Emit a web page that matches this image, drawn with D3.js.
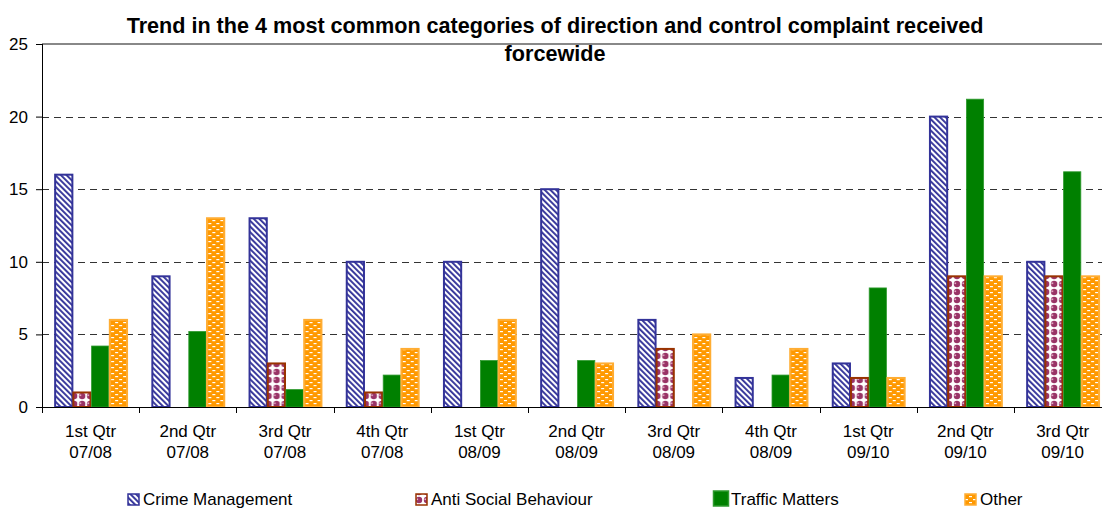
<!DOCTYPE html>
<html>
<head>
<meta charset="utf-8">
<script src="https://cdn.jsdelivr.net/npm/d3@7"></script>
<style>
  html, body { margin: 0; padding: 0; background: #fff; }
  svg { display: block; font-family: Arial, "Liberation Sans", sans-serif; }
</style>
</head>
<body>
<svg id="chart" width="1102" height="509"></svg>
<script>
// Quarterly periods (two-line labels)
const quarters = ["1st Qtr", "2nd Qtr", "3rd Qtr", "4th Qtr", "1st Qtr", "2nd Qtr", "3rd Qtr", "4th Qtr", "1st Qtr", "2nd Qtr", "3rd Qtr"];
const years    = ["07/08", "07/08", "07/08", "07/08", "08/09", "08/09", "08/09", "08/09", "09/10", "09/10", "09/10"];

// Complaint counts per category
const crimeManagement     = [16, 9, 13, 10, 10, 15, 6, 2, 3, 20, 10];
const antiSocialBehaviour = [1, 0, 3, 1, 0, 0, 4, 0, 2, 9, 9];
const trafficMatters      = [4.2, 5.2, 1.2, 2.2, 3.2, 3.2, 0, 2.2, 8.2, 21.2, 16.2];
const other               = [6, 13, 6, 4, 6, 3, 5, 4, 2, 9, 9];

const seriesNames = ["Crime Management", "Anti Social Behaviour", "Traffic Matters", "Other"];
const yTicks = [0, 5, 10, 15, 20, 25];

const titleLines = ["Trend in the 4 most common categories of direction and control complaint received", "forcewide"];

const series = [
  { name: seriesNames[0], values: crimeManagement,     fill: "url(#pCrime)", stroke: "#333399" },
  { name: seriesNames[1], values: antiSocialBehaviour, fill: "url(#pAsb)",   stroke: "#993300" },
  { name: seriesNames[2], values: trafficMatters,      fill: "#008000",      stroke: "#2f9a2f" },
  { name: seriesNames[3], values: other,               fill: "url(#pOther)", stroke: "#ffad33" }
];

const svg = d3.select("#chart");
const plotLeft = 42, plotTop = 44, plotBottom = 407;
const step = 97.2;
const plotRight = plotLeft + step * quarters.length;

// Fill patterns
const defs = svg.append("defs");
const pc = defs.append("pattern").attr("id", "pCrime").attr("patternUnits", "userSpaceOnUse")
  .attr("width", 4).attr("height", 4).attr("patternTransform", "rotate(-45)");
pc.append("rect").attr("width", 4).attr("height", 4).attr("fill", "#fff");
pc.append("rect").attr("width", 1.9).attr("height", 4).attr("fill", "#333399");

const pa = defs.append("pattern").attr("id", "pAsb").attr("patternUnits", "userSpaceOnUse")
  .attr("width", 8).attr("height", 8);
pa.append("rect").attr("width", 8).attr("height", 8).attr("fill", "#fff");
pa.append("circle").attr("cx", 4).attr("cy", 4).attr("r", 3.2).attr("fill", "#993366");
pa.append("rect").attr("x", 1.5).attr("y", 2.5).attr("width", 1.6).attr("height", 1.6).attr("fill", "#e6b3cc");

const po = defs.append("pattern").attr("id", "pOther").attr("patternUnits", "userSpaceOnUse")
  .attr("width", 8).attr("height", 6);
po.append("rect").attr("width", 8).attr("height", 6).attr("fill", "#ff9900");
po.append("rect").attr("x", 1).attr("y", 1).attr("width", 3).attr("height", 1.2).attr("fill", "#fff");
po.append("rect").attr("x", 5).attr("y", 4).attr("width", 3).attr("height", 1.2).attr("fill", "#fff");

// Scales
const x0 = d3.scaleBand().domain(d3.range(quarters.length)).range([plotLeft, plotRight])
  .paddingInner(0.25).paddingOuter(0.125);
const x1 = d3.scaleBand().domain(d3.range(series.length)).range([0, x0.bandwidth()]);
const y = d3.scaleLinear().domain([0, 25]).range([plotBottom, plotTop]);

// Gridlines
svg.append("g").selectAll("line").data(yTicks.filter(t => t > 0 && t < 25)).join("line")
  .attr("x1", plotLeft).attr("x2", plotRight)
  .attr("y1", d => Math.round(y(d)) + 0.5).attr("y2", d => Math.round(y(d)) + 0.5)
  .attr("stroke", "#333").attr("stroke-width", 1).attr("stroke-dasharray", "7,5");
svg.append("line").attr("x1", plotLeft).attr("x2", plotRight)
  .attr("y1", y(25)).attr("y2", y(25)).attr("stroke", "#888").attr("stroke-width", 2);

// Bars
const groups = svg.append("g").selectAll("g").data(d3.range(quarters.length)).join("g")
  .attr("transform", i => `translate(${x0(i)},0)`);
groups.selectAll("rect")
  .data(i => series.map((s, k) => ({ k, s, v: s.values[i] })).filter(d => d.v > 0))
  .join("rect")
  .attr("x", d => x1(d.k) + 1)
  .attr("width", x1.bandwidth() - 1)
  .attr("y", d => y(d.v))
  .attr("height", d => y(0) - y(d.v))
  .attr("fill", d => d.s.fill)
  .attr("stroke", d => d.s.stroke)
  .attr("stroke-width", d => d.k === 2 ? 0.8 : 2);

// Axes
const yAxis = d3.axisLeft(y).tickValues(yTicks).tickSize(6).tickPadding(8);
const gy = svg.append("g").attr("transform", `translate(${plotLeft},0)`).call(yAxis);
gy.select(".domain").attr("stroke", "#000").attr("d", `M0.5,${plotTop}V${plotBottom}`);
gy.selectAll(".tick line").attr("stroke", "#000");
gy.selectAll("text").attr("font-size", 17).attr("fill", "#000").attr("font-family", "Arial, 'Liberation Sans', sans-serif");

const xAxisLine = svg.append("g");
xAxisLine.append("line").attr("x1", plotLeft).attr("x2", plotRight).attr("y1", plotBottom + 0.5).attr("y2", plotBottom + 0.5).attr("stroke", "#000");
xAxisLine.selectAll("line.t").data(d3.range(quarters.length + 1)).join("line").attr("class", "t")
  .attr("x1", i => Math.round(plotLeft + i * step) + 0.5).attr("x2", i => Math.round(plotLeft + i * step) + 0.5)
  .attr("y1", plotBottom).attr("y2", plotBottom + 6).attr("stroke", "#000");

const labels = svg.append("g").attr("font-size", 17).attr("text-anchor", "middle").attr("fill", "#000");
labels.selectAll("text").data(d3.range(quarters.length)).join("text")
  .attr("x", i => x0(i) + x0.bandwidth() / 2)
  .attr("y", 437)
  .each(function (i) {
    const t = d3.select(this);
    t.append("tspan").attr("x", x0(i) + x0.bandwidth() / 2).text(quarters[i]);
    t.append("tspan").attr("x", x0(i) + x0.bandwidth() / 2).attr("dy", 21).text(years[i]);
  });

// Title
svg.append("g").attr("font-size", 21.6).attr("font-weight", "bold").attr("text-anchor", "middle")
  .selectAll("text").data(titleLines).join("text")
  .attr("x", 555).attr("y", (d, i) => 33 + i * 28).text(d => d);

// Legend
const legendX = [127, 415, 713, 964];
const leg = svg.append("g").selectAll("g").data(series).join("g")
  .attr("transform", (d, i) => `translate(${legendX[i]},0)`);
leg.append("rect")
  .attr("x", (d, i) => i === 2 ? 0.5 : 1).attr("y", (d, i) => i === 2 ? 491 : 494)
  .attr("width", (d, i) => i === 2 ? 15 : 11).attr("height", (d, i) => i === 2 ? 15 : 11)
  .attr("fill", d => d.fill).attr("stroke", d => d.stroke).attr("stroke-width", 1.5);
leg.append("text").attr("x", (d, i) => i === 2 ? 18 : 16).attr("y", 505).attr("font-size", 17).text(d => d.name);
</script>
</body>
</html>
